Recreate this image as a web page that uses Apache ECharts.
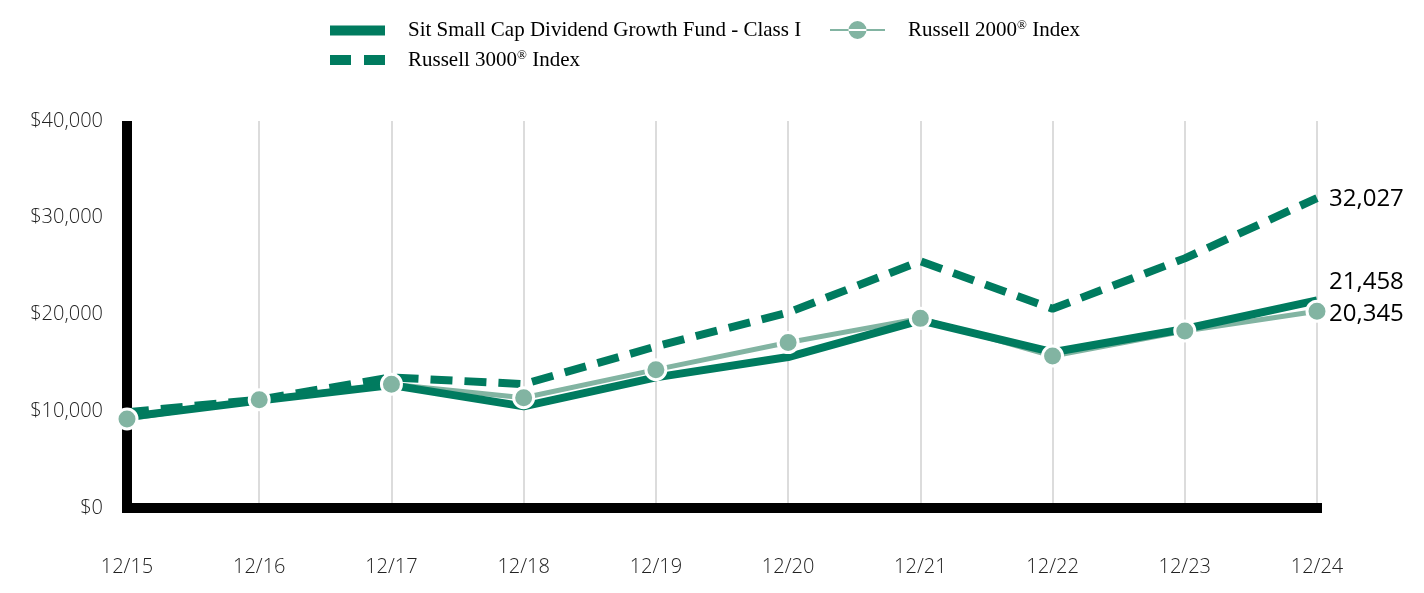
<!DOCTYPE html>
<html><head><meta charset="utf-8">
<script src="https://cdn.jsdelivr.net/npm/echarts@6/dist/echarts.min.js"></script>
<style>html,body{margin:0;padding:0;background:#fff}#c{width:1424px;height:593px}</style>
</head><body><div id="c"></div>
<script>
const categories = ['12/15','12/16','12/17','12/18','12/19','12/20','12/21','12/22','12/23','12/24'];
const fund = [9400, 11100, 12700, 10500, 13500, 15600, 19400, 16100, 18500, 21458];
const r3000 = [9900, 11200, 13500, 12800, 16700, 20200, 25500, 20600, 25800, 32027];
const r2000 = [9200, 11200, 12800, 11400, 14300, 17100, 19600, 15700, 18300, 20345];
const yTicks = [0, 10000, 20000, 30000, 40000];
const names = ['Sit Small Cap Dividend Growth Fund - Class I', 'Russell 2000\u00AE Index', 'Russell 3000\u00AE Index'];
const dark = '#007b5f', light = '#82b4a2';
const chart = echarts.init(document.getElementById('c'));
const endFmt = v => v.value.toLocaleString('en-US');
const legText = {fontFamily: 'Liberation Serif', fontSize: 21, color: '#000', padding: [0,0,0,18],
  rich: {a: {fontFamily: 'Liberation Serif', fontSize: 21, color: '#000'},
         s: {fontFamily: 'Liberation Serif', fontSize: 13, color: '#000', padding: [0,0,9,0]}}};
const legFmt = n => n.includes('\u00AE') ? n.split('\u00AE').map((p,i)=>'{a|'+p+'}').join('{s|\u00AE}') : n;
chart.setOption({
  animation: false,
  grid: {left: 127, right: 107, top: 121, bottom: 85, containLabel: false},
  legend: [
    {data: [{name: names[0], icon: 'rect', itemStyle: {color: dark, borderWidth: 0}}],
     left: 325, top: 15, itemWidth: 55, itemHeight: 10, formatter: legFmt, textStyle: legText},
    {data: [{name: names[1], icon: 'path://M0,8H55V10H0Z M18.5,9A9,9 0 1 0 36.5,9A9,9 0 1 0 18.5,9Z', itemStyle: {color: light, borderWidth: 0}}],
     left: 825, top: 14, itemWidth: 55, itemHeight: 18, formatter: legFmt, textStyle: legText},
    {data: [{name: names[2], icon: 'path://M0,0H21V10H0Z M34,0H55V10H34Z', itemStyle: {color: dark, borderWidth: 0}}],
     left: 325, top: 44, itemWidth: 55, itemHeight: 10, formatter: legFmt, textStyle: legText}
  ],
  xAxis: {type: 'category', data: categories, boundaryGap: false,
    axisLine: {show: true, lineStyle: {color: '#000', width: 10, cap: 'square'}},
    axisTick: {show: false},
    axisLabel: {margin: 49, fontFamily: 'Open Sans', fontWeight: 300, fontSize: 20, color: '#222'},
    splitLine: {show: true, lineStyle: {color: '#dcdcdc', width: 2}}},
  yAxis: {type: 'value', min: 0, max: 40000, interval: 10000,
    axisLine: {show: true, lineStyle: {color: '#000', width: 10, cap: 'butt'}},
    axisTick: {show: false}, splitLine: {show: false},
    axisLabel: {margin: 24, fontFamily: 'Open Sans', fontWeight: 300, fontSize: 20, color: '#222',
      formatter: v => yTicks.includes(v) ? '$' + v.toLocaleString('en-US') : ''}},
  series: [
    {name: names[1], type: 'line', data: r2000, z: 2, symbol: 'circle', symbolSize: 20, showSymbol: false,
     lineStyle: {color: light, width: 5}, itemStyle: {color: light},
     endLabel: {show: true, formatter: endFmt, fontFamily: 'Open Sans', fontSize: 24, color: '#000', offset: [4, 3]}},
    {name: names[0], type: 'line', data: fund, z: 3, symbol: 'none',
     lineStyle: {color: dark, width: 8}, itemStyle: {color: dark},
     endLabel: {show: true, formatter: endFmt, fontFamily: 'Open Sans', fontSize: 24, color: '#000', offset: [4, -18]}},
    {name: names[2], type: 'line', data: r3000, z: 3, symbol: 'none',
     lineStyle: {color: dark, width: 8, type: [22, 12]}, itemStyle: {color: dark},
     endLabel: {show: true, formatter: endFmt, fontFamily: 'Open Sans', fontSize: 24, color: '#000', offset: [4, 1]}},
    {name: 'markers', type: 'scatter', data: r2000, z: 5, symbol: 'circle', symbolSize: 20,
     itemStyle: {color: light, borderColor: '#fff', borderWidth: 3, opacity: 1}, silent: true}
  ]
});
</script></body></html>
